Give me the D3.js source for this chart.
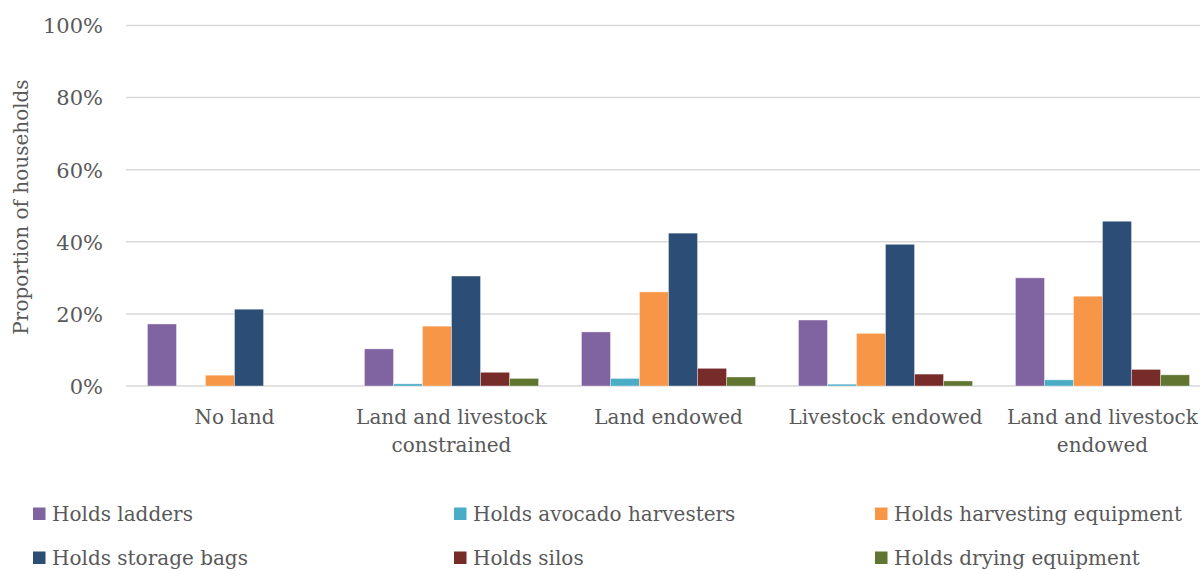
<!DOCTYPE html>
<html>
<head>
<meta charset="utf-8">
<script src="https://cdn.jsdelivr.net/npm/d3@7/dist/d3.min.js"></script>
<style>
  html, body { margin: 0; padding: 0; background: #fff; }
  svg { display: block; }
  text { font-family: "DejaVu Serif", "Liberation Serif", serif; fill: #595959; }
</style>
</head>
<body>
<svg id="chart" width="1200" height="571"></svg>
<script>
// Farm-asset ownership by household endowment group
const categories = [
  ["No land"],
  ["Land and livestock", "constrained"],
  ["Land endowed"],
  ["Livestock endowed"],
  ["Land and livestock", "endowed"]
];
const seriesNames = [
  "Holds ladders",
  "Holds avocado harvesters",
  "Holds harvesting equipment",
  "Holds storage bags",
  "Holds silos",
  "Holds drying equipment"
];
const seriesColors = ["#8064A2", "#4BACC6", "#F79646", "#2C4D75", "#772C2A", "#5F7530"];

// one array per series, values per category (proportion of households)
const ladders     = [0.172, 0.103, 0.150, 0.183, 0.300];
const harvesters  = [0.000, 0.006, 0.021, 0.005, 0.017];
const harvestEq   = [0.030, 0.166, 0.261, 0.146, 0.249];
const storageBags = [0.213, 0.305, 0.424, 0.393, 0.457];
const silos       = [0.000, 0.038, 0.049, 0.033, 0.046];
const dryingEq    = [0.000, 0.021, 0.025, 0.014, 0.031];
const seriesValues = [ladders, harvesters, harvestEq, storageBags, silos, dryingEq];

const yTicks = [0, 0.2, 0.4, 0.6, 0.8, 1.0];

const FONT = "DejaVu Serif, Liberation Serif, serif";
const FS = 20;

const svg = d3.select("#chart");
const plot = { left: 126, right: 1211, top: 25.5, bottom: 386 };

const x0 = d3.scaleBand()
  .domain(d3.range(categories.length))
  .range([plot.left, plot.right])
  .padding(0);

const x1 = d3.scaleBand()
  .domain(d3.range(seriesNames.length))
  .range([0, x0.bandwidth()])
  .paddingInner(0)
  .paddingOuter(0.74);

const y = d3.scaleLinear().domain([0, 1]).range([plot.bottom, plot.top]);

// horizontal gridlines
svg.append("g")
  .selectAll("line")
  .data(yTicks)
  .join("line")
  .attr("x1", plot.left)
  .attr("x2", plot.right)
  .attr("y1", d => y(d))
  .attr("y2", d => y(d))
  .attr("stroke", "#d9d9d9")
  .attr("stroke-width", 1.5);

// y tick labels
const yAxis = d3.axisLeft(y)
  .tickValues(yTicks)
  .tickFormat(d3.format(".0%"))
  .tickSize(0)
  .tickPadding(0);
const yg = svg.append("g")
  .attr("transform", `translate(103,0)`)
  .call(yAxis);
yg.select(".domain").remove();
yg.selectAll("text")
  .attr("font-size", 21)
  .attr("font-family", FONT)
  .attr("fill", "#595959")
  .attr("dy", "0.35em");

// y axis title
svg.append("text")
  .attr("transform", `translate(28,207) rotate(-90)`)
  .attr("text-anchor", "middle")
  .attr("font-size", FS)
  .text("Proportion of households");

// bars
const groups = svg.append("g")
  .selectAll("g")
  .data(categories.map((c, i) => i))
  .join("g")
  .attr("transform", i => `translate(${x0(i)},0)`);

groups.selectAll("rect")
  .data(i => seriesValues.map((vals, s) => ({ s, v: vals[i] })).filter(d => d.v > 0))
  .join("rect")
  .attr("x", d => x1(d.s))
  .attr("width", x1.bandwidth())
  .attr("y", d => y(d.v))
  .attr("height", d => y(0) - y(d.v))
  .attr("fill", d => seriesColors[d.s])
  .attr("stroke", "#ffffff")
  .attr("stroke-opacity", 0.45)
  .attr("stroke-width", 0.8);

// category labels
const catLabels = svg.append("g")
  .selectAll("text")
  .data(categories)
  .join("text")
  .attr("x", (d, i) => x0(i) + x0.bandwidth() / 2)
  .attr("y", 424)
  .attr("text-anchor", "middle")
  .attr("font-size", FS);
catLabels.selectAll("tspan")
  .data(d => d)
  .join("tspan")
  .attr("x", function () { return this.parentNode.getAttribute("x"); })
  .attr("dy", (d, j) => j === 0 ? 0 : 28)
  .text(d => d);

// legend: three columns, two rows
const legendCols = [33, 454, 875];
const legendRows = [514, 558];
const legend = svg.append("g")
  .selectAll("g")
  .data(seriesNames)
  .join("g")
  .attr("transform", (d, i) => `translate(${legendCols[i % 3]},${legendRows[Math.floor(i / 3)]})`);
legend.append("rect")
  .attr("x", 0)
  .attr("y", -6.5)
  .attr("width", 12.5)
  .attr("height", 12.5)
  .attr("fill", (d, i) => seriesColors[i]);
legend.append("text")
  .attr("x", 19)
  .attr("y", 0)
  .attr("dy", "0.35em")
  .attr("font-size", FS)
  .text(d => d);
</script>
</body>
</html>
